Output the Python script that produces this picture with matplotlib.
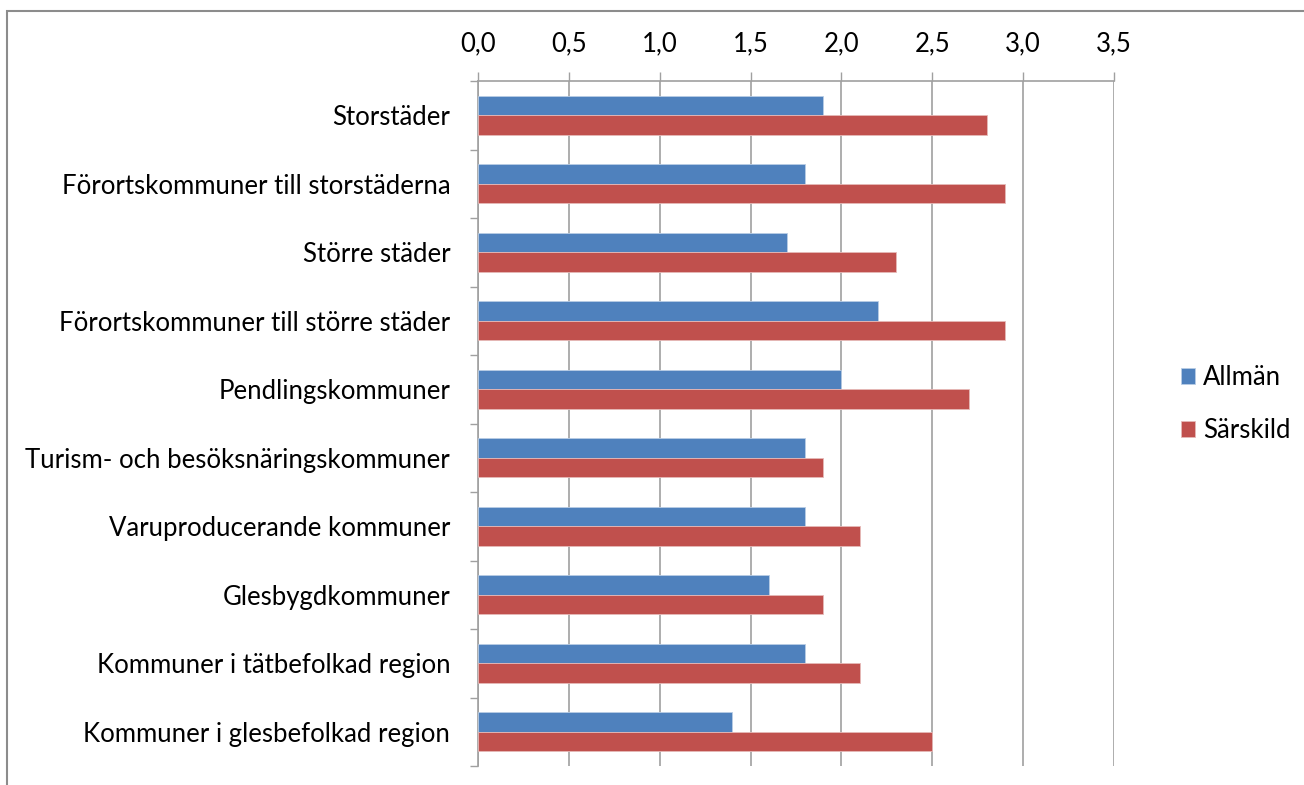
import matplotlib.pyplot as plt
import numpy as np
from matplotlib.patches import Rectangle

categories = ['Storstäder', 'Förortskommuner till storstäderna', 'Större städer',
              'Förortskommuner till större städer', 'Pendlingskommuner',
              'Turism- och besöksnäringskommuner', 'Varuproducerande kommuner',
              'Glesbygdkommuner', 'Kommuner i tätbefolkad region',
              'Kommuner i glesbefolkad region']
allman = [1.9, 1.8, 1.7, 2.2, 2.0, 1.8, 1.8, 1.6, 1.8, 1.4]
sarskild = [2.8, 2.9, 2.3, 2.9, 2.7, 1.9, 2.1, 1.9, 2.1, 2.5]
xticks = [0.0, 0.5, 1.0, 1.5, 2.0, 2.5, 3.0, 3.5]


def plot():
    plt.rcParams['font.family'] = ['Lato', 'DejaVu Sans']
    grid = '#a0a0a0'
    fs = 18.5

    fig = plt.figure(figsize=(13.04, 7.85), dpi=100)
    ax = fig.add_axes([478 / 1304, 1 - 766 / 785, 636 / 1304, 685 / 785])

    y = np.arange(len(categories))
    h = 0.285
    ax.barh(y - h / 2, allman, height=h, color='#4f81bd', edgecolor='#b9cde5',
            linewidth=0.6, label='Allmän', zorder=3)
    ax.barh(y + h / 2, sarskild, height=h, color='#c0504d', edgecolor='#e6b9b8',
            linewidth=0.6, label='Särskild', zorder=3)

    ax.set_xlim(0, 3.5)
    ax.set_ylim(len(categories) - 0.5, -0.5)

    ax.xaxis.tick_top()
    ax.set_xticks(xticks)
    ax.set_xticklabels(['{:.1f}'.format(v).replace('.', ',') for v in xticks])
    ax.tick_params(axis='x', which='major', direction='out', length=6.5, width=1,
                   color=grid, pad=11, labelsize=fs)
    ax.grid(axis='x', color=grid, linewidth=1.2, zorder=0)

    ax.set_yticks(y)
    ax.set_yticklabels(categories)
    ax.set_yticks(np.arange(len(categories) + 1) - 0.5, minor=True)
    ax.tick_params(axis='y', which='major', length=0, pad=20, labelsize=fs)
    ax.tick_params(axis='y', which='minor', direction='out', length=6, width=1,
                   color=grid)

    for s in ['right', 'bottom']:
        ax.spines[s].set_visible(False)
    for s in ['left', 'top']:
        ax.spines[s].set_color(grid)
        ax.spines[s].set_linewidth(1.2)

    ax.legend(loc='center left', bbox_to_anchor=(1171 / 1304, 1 - 404 / 785),
              bbox_transform=fig.transFigure, frameon=False, fontsize=fs,
              handlelength=0.55, handleheight=0.55, handletextpad=0.3,
              labelspacing=1.1, borderaxespad=0)

    fig.patches.append(Rectangle((7 / 1304, -0.1), 1.2, 1 - 11 / 785 + 0.1,
                                 transform=fig.transFigure, fill=False,
                                 edgecolor='#8c8c8c', linewidth=1.5))

    fig.savefig('out.png', dpi=100)


if __name__ == '__main__':
    plot()
